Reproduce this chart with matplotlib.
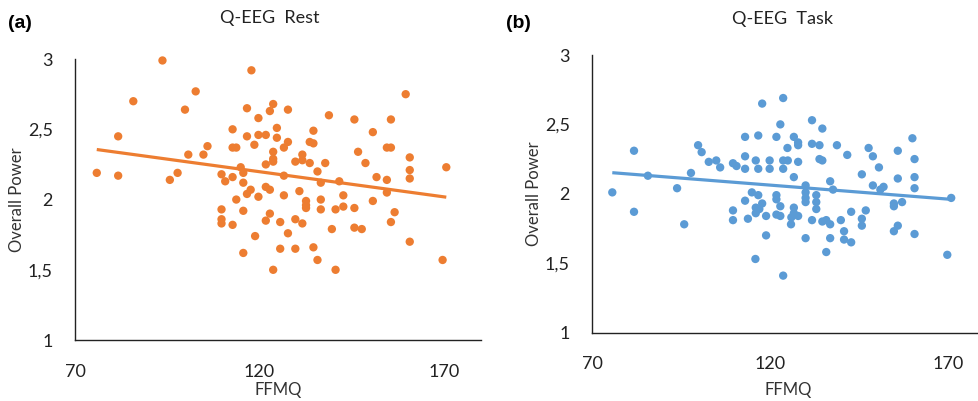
import numpy as np
import matplotlib
matplotlib.use("Agg")
import matplotlib.pyplot as plt

plt.rcParams['font.family'] = ['Lato', 'DejaVu Sans']

# FFMQ vs overall power, rest condition
x_rest = [75.9, 81.7, 81.7, 85.8, 93.7, 95.7, 97.8, 99.8, 100.7, 102.7, 104.8, 105.9,
          109.7, 110.7, 109.7, 109.7, 109.7, 112.7, 112.7, 113.7, 112.7, 112.7, 113.7,
          114.9, 115.6, 115.6, 115.6, 115.6, 116.6, 116.6, 116.6, 117.6, 117.8, 118.6,
          118.8, 119.7, 119.7, 119.7, 121.7, 121.7, 121.7, 121.7, 122.8, 122.8, 122.8,
          123.7, 123.7, 123.7, 123.7, 123.7, 124.7, 124.7, 126.6, 126.6, 126.6, 125.6,
          125.6, 127.7, 127.7, 127.7, 129.7, 129.7, 129.7, 130.8, 131.6, 131.6, 131.6,
          132.6, 132.6, 132.6, 133.6, 133.6, 134.6, 134.6, 134.6, 135.7, 135.7, 136.6,
          136.6, 136.6, 137.8, 138.8, 139.6, 140.6, 140.6, 141.6, 142.7, 142.7, 145.7,
          145.7, 145.7, 146.7, 147.7, 148.7, 150.7, 150.7, 151.7, 154.5, 154.5, 154.5,
          155.6, 155.6, 155.6, 156.6, 159.6, 160.7, 160.7, 160.7, 160.7, 169.6, 170.6]
y_rest = [2.19, 2.17, 2.45, 2.70, 2.99, 2.14, 2.19, 2.64, 2.32, 2.77, 2.32, 2.38,
          2.18, 2.13, 1.93, 1.86, 1.83, 2.50, 2.37, 2.37, 2.16, 1.82, 2.00,
          2.23, 2.19, 2.12, 1.92, 1.62, 2.65, 2.45, 2.04, 2.07, 2.92, 2.39,
          1.74, 2.58, 2.46, 2.02, 2.46, 2.25, 2.09, 1.85, 2.63, 2.07, 1.90,
          2.68, 2.34, 2.27, 2.29, 1.50, 2.51, 2.44, 2.17, 2.37, 2.03, 1.84,
          1.65, 2.64, 2.41, 1.76, 2.27, 1.86, 1.65, 2.06, 2.32, 2.28, 1.83,
          1.99, 1.96, 1.94, 2.41, 2.26, 2.49, 2.40, 1.66, 2.20, 1.57, 2.12,
          2.00, 1.93, 2.26, 2.60, 1.79, 1.50, 1.93, 2.13, 2.03, 1.95, 2.57,
          1.94, 1.80, 2.34, 1.79, 2.26, 2.48, 1.99, 2.16, 2.14, 2.05, 2.37,
          2.37, 2.57, 1.84, 1.91, 2.75, 2.30, 2.21, 2.15, 1.70, 1.57, 2.23]

# FFMQ vs overall power, task condition
x_task = [75.7, 81.8, 81.8, 85.7, 93.9, 95.9, 97.8, 99.8, 100.8, 102.8, 104.9, 106.0,
          109.6, 110.6, 109.6, 109.6, 113.0, 113.0, 113.0, 113.0, 113.8, 116.0, 116.7,
          116.7, 114.9, 116.7, 116.0, 116.0, 117.0, 117.8, 117.8, 115.9, 118.9, 118.9,
          119.9, 119.9, 121.8, 121.8, 121.8, 121.8, 122.9, 122.9, 122.9, 123.7, 123.7,
          123.7, 125.0, 123.7, 124.9, 126.7, 126.7, 126.7, 126.7, 125.9, 127.9, 127.9,
          127.9, 127.9, 126.0, 130.0, 130.0, 130.0, 130.0, 130.0, 131.8, 131.8, 131.8,
          133.0, 133.0, 133.0, 133.9, 133.9, 134.7, 134.7, 134.7, 135.8, 135.8, 136.9,
          136.9, 136.9, 137.7, 138.8, 139.9, 140.8, 140.8, 141.7, 142.8, 142.8, 145.8,
          145.8, 145.8, 146.9, 147.7, 148.9, 148.9, 150.6, 151.0, 151.9, 154.8, 154.8,
          154.8, 155.9, 155.9, 155.9, 157.1, 160.0, 160.6, 160.6, 160.6, 160.6, 169.8,
          170.9]
y_task = [2.01, 2.31, 1.87, 2.13, 2.04, 1.78, 2.15, 2.35, 2.30, 2.23, 2.24, 2.19,
          2.22, 2.20, 1.88, 1.81, 2.41, 2.27, 2.18, 1.95, 1.82, 2.24, 2.42,
          2.18, 2.01, 1.99, 1.90, 1.86, 1.89, 1.93, 2.65, 1.53, 1.84, 1.70,
          2.24, 2.18, 2.41, 1.99, 1.96, 1.85, 2.50, 1.91, 1.84, 2.69, 2.24,
          2.18, 2.24, 1.41, 2.33, 2.41, 2.12, 1.90, 1.86, 1.78, 2.37, 2.35,
          2.23, 1.84, 1.83, 2.06, 2.01, 1.97, 1.94, 1.68, 2.53, 2.36, 1.81,
          1.99, 1.94, 1.89, 2.35, 2.25, 2.47, 2.24, 1.80, 1.81, 1.58, 2.09,
          1.78, 1.68, 2.03, 2.35, 1.81, 1.73, 1.67, 2.28, 1.87, 1.65, 2.14,
          1.82, 1.77, 1.88, 2.33, 2.27, 2.06, 2.19, 2.03, 2.05, 1.93, 1.91,
          1.73, 2.31, 2.11, 1.77, 1.94, 2.40, 2.25, 2.12, 2.04, 1.71, 1.56,
          1.97]

y_ticks = [1, 1.5, 2, 2.5, 3]
y_tick_labels = ['1', '1,5', '2', '2,5', '3']
x_ticks = [70, 120, 170]

panels = [
    ('(a)', 'Q-EEG  Rest', x_rest, y_rest, '#ED7D31', [0.0766, 0.152, 0.4147, 0.7007], 2),
    ('(b)', 'Q-EEG  Task', x_task, y_task, '#5B9BD5', [0.6047, 0.1708, 0.400, 0.692], 7),
]

fig = plt.figure(figsize=(9.79, 4.01), dpi=100)

for tag, title, xs, ys, color, pos, xpad in panels:
    ax = fig.add_axes(pos)
    ax.scatter(xs, ys, s=36, color=color, edgecolors='none', zorder=3, clip_on=False)
    # linear trendline
    k, b = np.polyfit(xs, ys, 1)
    tx = np.array([min(xs), max(xs)])
    ax.plot(tx, k * tx + b, color=color, lw=2.3, zorder=2, solid_capstyle='butt')

    ax.set_xlim(70, 180)
    ax.set_ylim(1, 3)
    ax.set_xticks(x_ticks)
    ax.set_yticks(y_ticks)
    ax.set_yticklabels(y_tick_labels)
    ax.tick_params(length=0, labelsize=13, colors='#222222')
    ax.tick_params(axis='y', pad=16)
    ax.tick_params(axis='x', pad=17)
    for s in ['top', 'right']:
        ax.spines[s].set_visible(False)
    for s in ['left', 'bottom']:
        ax.spines[s].set_color('#222222')
        ax.spines[s].set_linewidth(1.0)
    ax.set_xlabel('FFMQ', fontsize=12, color='#333333', labelpad=xpad)
    ax.set_ylabel('Overall Power', fontsize=12, color='#333333', labelpad=2)

fig.text(0.276, 0.955, 'Q-EEG  Rest', ha='center', va='center', fontsize=13, color='#222222')
fig.text(0.799, 0.952, 'Q-EEG  Task', ha='center', va='center', fontsize=13, color='#222222')
fig.text(0.008, 0.942, '(a)', ha='left', va='center', fontsize=14, fontweight='bold',
         family=['Liberation Sans', 'DejaVu Sans'])
fig.text(0.517, 0.942, '(b)', ha='left', va='center', fontsize=14, fontweight='bold',
         family=['Liberation Sans', 'DejaVu Sans'])

fig.savefig('out.png', dpi=100)
